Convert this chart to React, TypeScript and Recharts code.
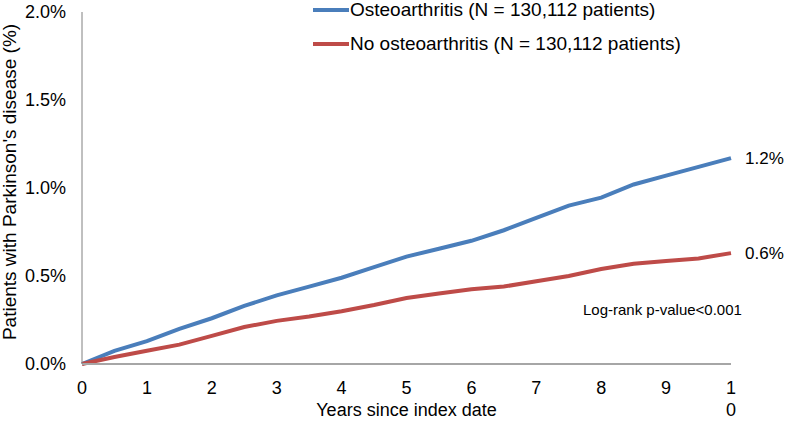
import { LineChart, Line, XAxis, YAxis } from 'recharts';

const years = [0, 0.5, 1, 1.5, 2, 2.5, 3, 3.5, 4, 4.5, 5, 5.5, 6, 6.5, 7, 7.5, 8, 8.5, 9, 9.5, 10];
const osteo = [0, 0.075, 0.13, 0.2, 0.26, 0.33, 0.39, 0.44, 0.49, 0.55, 0.61, 0.655, 0.7, 0.76, 0.83, 0.9, 0.945, 1.02, 1.07, 1.12, 1.17];
const noOsteo = [0, 0.04, 0.075, 0.11, 0.16, 0.21, 0.245, 0.27, 0.3, 0.335, 0.375, 0.4, 0.425, 0.44, 0.47, 0.5, 0.54, 0.57, 0.585, 0.6, 0.63];
const xTicks = [0, 1, 2, 3, 4, 5, 6, 7, 8, 9, 10];
const yTicks = [0, 0.5, 1, 1.5, 2];
const endLabels = { osteo: '1.2%', noOsteo: '0.6%' };

const data = years.map((yr, i) => ({ yr, osteo: osteo[i], noOsteo: noOsteo[i] }));

const BLUE = '#4A7EBB';
const RED = '#BE4B48';
const FONT = '"Liberation Sans", Arial, sans-serif';

const legendItems = [
  { color: BLUE, label: 'Osteoarthritis (N = 130,112 patients)' },
  { color: RED, label: 'No osteoarthritis (N = 130,112 patients)' },
];

function XTick({ x, y, payload }: any) {
  const chars = String(payload.value).split('');
  return (
    <text x={x} y={y} textAnchor="middle" fontSize={18} fill="#000" fontFamily={FONT}>
      {chars.map((c, i) => (
        <tspan key={i} x={x} dy={i === 0 ? 22 : 22}>
          {c}
        </tspan>
      ))}
    </text>
  );
}

function endLabel(text: string) {
  return (props: any) => {
    if (props.index !== years.length - 1) return null;
    return (
      <text x={props.x + 14} y={props.y + 6} fontSize={17} fontFamily={FONT} fill="#000">
        {text}
      </text>
    );
  };
}

export default function App() {
  return (
    <div style={{ position: 'absolute', left: 0, top: 0, width: 787, height: 421, background: '#fff', overflow: 'hidden' }}>
      <LineChart width={787} height={421} data={data} margin={{ top: 12, right: 56, bottom: 27, left: 22 }}>
        <XAxis
          dataKey="yr"
          type="number"
          domain={[0, 10]}
          ticks={xTicks}
          interval={0}
          height={30}
          tickLine={false}
          tick={<XTick />}
          axisLine={{ stroke: '#A6A6A6', strokeWidth: 2 }}
          label={{ value: 'Years since index date', position: 'insideBottom', offset: -22, fontSize: 18, fill: '#000', fontFamily: FONT }}
        />
        <YAxis
          domain={[0, 2]}
          ticks={yTicks}
          width={60}
          tickLine={false}
          tickSize={0}
          tickMargin={16}
          tickFormatter={(v: number) => `${v.toFixed(1)}%`}
          tick={{ fontSize: 18, fill: '#000', fontFamily: FONT }}
          axisLine={{ stroke: '#808080', strokeWidth: 1 }}
          label={{
            content: () => (
              <text
                x={16}
                y={182}
                transform="rotate(-90 16 182)"
                textAnchor="middle"
                fontSize={19}
                fontFamily={FONT}
                fill="#000"
              >
                Patients with Parkinson's disease (%)
              </text>
            ),
          }}
        />
        <Line
          dataKey="osteo"
          stroke={BLUE}
          strokeWidth={4}
          dot={false}
          type="linear"
          isAnimationActive={false}
          label={endLabel(endLabels.osteo)}
        />
        <Line
          dataKey="noOsteo"
          stroke={RED}
          strokeWidth={4}
          dot={false}
          type="linear"
          isAnimationActive={false}
          label={endLabel(endLabels.noOsteo)}
        />
      </LineChart>
      <div style={{ position: 'absolute', left: 313, top: 0, fontFamily: FONT, fontSize: 19, lineHeight: '19px', whiteSpace: 'nowrap' }}>
        {legendItems.map((it, i) => (
          <div key={it.label} style={{ display: 'flex', alignItems: 'center', height: 19, marginTop: i === 0 ? 0 : 15 }}>
            <span style={{ display: 'inline-block', width: 36, height: 4, background: it.color, marginRight: 1 }} />
            <span>{it.label}</span>
          </div>
        ))}
      </div>
      <div style={{ position: 'absolute', left: 583, top: 301, fontFamily: FONT, fontSize: 15, whiteSpace: 'nowrap' }}>
        Log-rank p-value&lt;0.001
      </div>
    </div>
  );
}
